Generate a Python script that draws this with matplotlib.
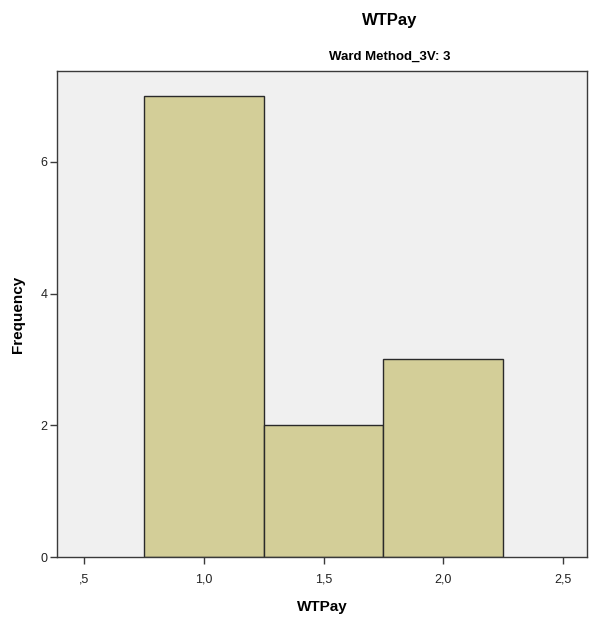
import matplotlib
matplotlib.use("Agg")
import matplotlib.pyplot as plt
from matplotlib.ticker import FixedLocator, FixedFormatter

plt.rcParams['font.family'] = ['Liberation Sans', 'DejaVu Sans']

# Histogram bins (WTPay) and their frequencies
bin_edges = [0.75, 1.25, 1.75, 2.25]
frequencies = [7, 2, 3]
x_ticks = [0.5, 1.0, 1.5, 2.0, 2.5]
x_tick_labels = [",5", "1,0", "1,5", "2,0", "2,5"]
y_ticks = [0, 2, 4, 6]

fig = plt.figure(figsize=(5.97, 6.18), dpi=100)
ax = fig.add_axes([57 / 597, 1 - 557 / 618, 530 / 597, 486 / 618])
ax.set_facecolor('#F0F0F0')

lefts = bin_edges[:-1]
widths = [b - a for a, b in zip(bin_edges[:-1], bin_edges[1:])]
ax.bar(lefts, frequencies, width=widths, align='edge',
       color='#D3CE98', edgecolor='#2A2A2A', linewidth=1.0)

ax.set_xlim(0.387, 2.6)
ax.set_ylim(0, 7.38)
ax.xaxis.set_major_locator(FixedLocator(x_ticks))
ax.xaxis.set_major_formatter(FixedFormatter(x_tick_labels))
ax.yaxis.set_major_locator(FixedLocator(y_ticks))

for s in ax.spines.values():
    s.set_color('#3A3A3A')
    s.set_linewidth(1.0)
ax.tick_params(axis='both', direction='out', length=5, width=1.0,
               color='#3A3A3A', labelsize=9, labelcolor='#222222')
ax.tick_params(axis='x', pad=7)
ax.tick_params(axis='y', pad=2)

ax.set_xlabel('WTPay', fontsize=11, fontweight='bold', labelpad=10)
ax.set_ylabel('Frequency', fontsize=11, fontweight='bold', labelpad=11)

fig.text(390 / 597, 1 - 20 / 618, 'WTPay', ha='center', va='center',
         fontsize=12, fontweight='bold')
fig.text(390 / 597, 1 - 57 / 618, 'Ward Method_3V: 3', ha='center', va='center',
         fontsize=9.5, fontweight='bold')

fig.savefig('out.png', dpi=100, facecolor='white')
